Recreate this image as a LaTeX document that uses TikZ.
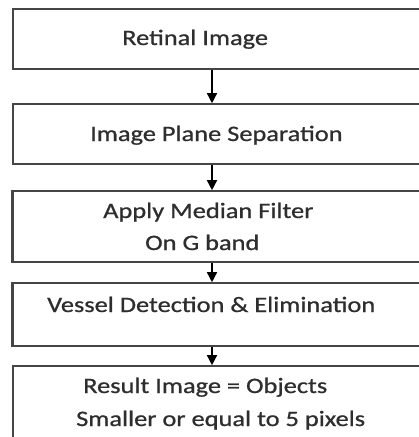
\documentclass[tikz,border=0pt]{standalone}
\usepackage{fontspec}
\setmainfont{Carlito}[FakeStretch=1.2,FakeBold=0.8]
\usetikzlibrary{arrows.meta}
\definecolor{linec}{HTML}{454545}
\definecolor{textc}{HTML}{2E2E2E}
\begin{document}
\begin{tikzpicture}[x=1pt,y=-1pt,
  box/.style={draw=linec,line width=1.6pt,rectangle,inner sep=0pt,minimum width=420pt},
  lbl/.style={anchor=base west,inner sep=0pt,text=textc,font=\fontsize{22}{26}\selectfont},
  arr/.style={draw=black,line width=1.4pt,-{Triangle[length=10pt,width=10pt]}}]
\useasboundingbox[fill=white] (0,0) rectangle (419,437);
\node[box,minimum height=60pt] (b1) at (223,39) {};
\node[box,minimum height=60pt] (b2) at (223,134) {};
\node[box,minimum height=71pt] (b3) at (223,226.5) {};
\node[box,minimum height=63pt] (b4) at (223,314.5) {};
\node[box,minimum height=90pt] (b5) at (223,411) {};
\draw[linec,line width=2.6pt] (b3.north west) -- (b3.south west);
\draw[linec,line width=2.6pt] (b4.north west) -- (b4.south west);
\coordinate (ax) at (212,0);
\node[lbl] (t1) at (122,45) {Retinal Image};
\node[lbl] (t2) at (90,141) {Image Plane Separation};
\node[lbl] (t3a) at (103,218) {Apply Median Filter};
\node[lbl] (t3b) at (145,250) {On G band};
\node[lbl] (t4) at (47,312) {Vessel Detection \& Elimination};
\node[lbl] (t5a) at (83,393) {Result Image = Objects};
\node[lbl] (t5b) at (76,426) {Smaller or equal to 5 pixels};
\draw[arr] (b1.south -| ax) -- (b2.north -| ax);
\draw[arr] (b2.south -| ax) -- (b3.north -| ax);
\draw[arr] (b3.south -| ax) -- (b4.north -| ax);
\draw[arr] (b4.south -| ax) -- (b5.north -| ax);
\end{tikzpicture}
\end{document}
